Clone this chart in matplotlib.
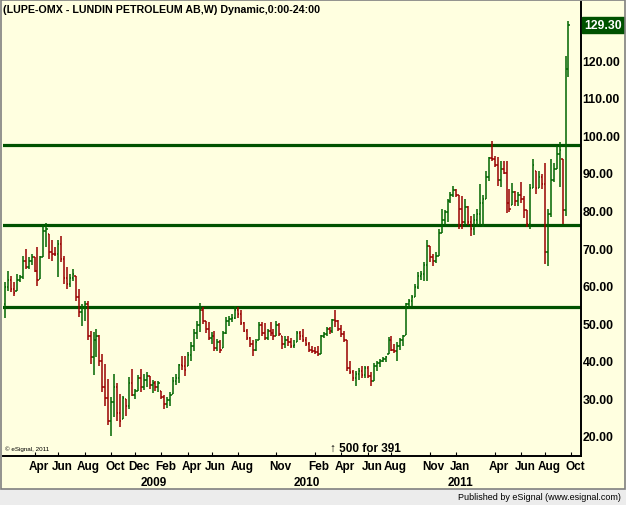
import numpy as np
import pandas as pd
import matplotlib
matplotlib.use('Agg')
import matplotlib.pyplot as plt
import matplotlib.transforms as mtransforms
from matplotlib.patches import Rectangle

# weekly bars, LUPE-OMX
start_week = '2008-01-28'
highs = [61, 64, 62.6, 61, 63, 62.8, 68, 69.7, 67.5, 68.4, 67.5, 70.2, 68, 76, 76.6, 73.7, 72, 70.3, 72, 73.3,
         68, 64.9, 63, 64.4, 62.6, 59.1, 55.1, 56, 56, 48, 47.6, 48.5, 46.9, 41.8, 39.1, 35.2, 30.3, 36.5, 34, 31.2,
         30.7, 29.8, 35.6, 37.8, 32.5, 36.1, 37.8, 36.5, 37, 36, 35, 34.5, 34.5, 32, 30.8, 30.3, 31.6, 35.6, 36.5, 39.1,
         41.4, 41.4, 42.3, 45, 48.5, 50.7, 55.4, 54.2, 50.5, 50.2, 47.6, 48, 45.8, 45.4, 48, 51.6, 52, 52.5, 54.5, 54.2,
         53.5, 50.2, 48.5, 46.2, 45.4, 45.8, 50.2, 50.2, 50, 48.5, 50.2, 48.5, 50.7, 50, 46.7, 46.5, 46.5, 46, 45.5, 48,
         48, 48.5, 46.2, 45, 44, 43.6, 44, 46.9, 47.6, 48.9, 49, 51.1, 53.6, 50.8, 49.5, 48, 45.5, 40, 37.5, 37.4,
         38, 38.5, 38.5, 38.5, 37, 39.5, 40, 40.5, 41, 41.3, 46.2, 46.5, 44.5, 44.9, 46, 46.9, 55.5, 56.5, 57.5, 60.4,
         63.5, 64, 66.2, 72, 70.5, 68.5, 69, 75, 80.4, 80, 83, 84.8, 86.6, 85.7, 84, 83.9, 83, 81.2, 78.6, 79,
         80.4, 87, 84, 90.6, 94.1, 98.5, 94.6, 94.1, 93.2, 93.2, 93.2, 85.7, 87.3, 85.2, 84.8, 87.5, 83.9, 80, 87, 93.8,
         90.6, 90.6, 89.7, 92.6, 80.4, 93.7, 92.6, 97.2, 98.3, 93.7, 121.2, 130.3]
lows = [51.3, 58.6, 58.2, 57.3, 58.6, 60.9, 61.7, 64.4, 64.4, 65.5, 63.5, 60, 61.7, 67.5, 70.2, 67, 66.6, 68, 62.2, 66.2,
        60.4, 59.1, 59.5, 61.3, 56, 51.6, 49.3, 50.7, 45.4, 39.1, 36.1, 40.9, 38.7, 31.6, 28.1, 22.8, 20.1, 25, 24.1, 22.3,
        24.5, 25.4, 27.2, 30.7, 29.8, 32, 31.6, 32.3, 33, 32.5, 31.5, 32, 31.8, 29.8, 27.2, 27.5, 28.1, 31.2, 33.5, 34,
        37.5, 36, 38.7, 40, 42.7, 45.8, 47.6, 49.8, 47.5, 45.4, 44.5, 42.7, 42.7, 42.2, 43.5, 47, 49.3, 50.2, 51.2, 51.5,
        49.5, 47.6, 45.4, 43.6, 41.4, 42.5, 45.4, 46.5, 45.4, 45.5, 46.5, 45.5, 46.5, 46.5, 43.1, 43.5, 44, 43.5, 43.5, 44.9,
        45.4, 45, 44, 42.3, 42, 41.8, 41.4, 41.8, 46, 46.5, 47, 47.5, 48.9, 48, 46.2, 45, 37.4, 36.5, 34.7, 33.4,
        35, 35.5, 35.5, 35.5, 33.4, 34.5, 37.4, 38.3, 39.6, 39.6, 41.8, 42.5, 42, 40, 43, 44, 46.9, 53.8, 54.5, 56.9,
        59, 61.5, 61.3, 61.3, 66.2, 65.3, 66, 68, 74, 76, 76.8, 82, 83.5, 83.5, 75, 75, 76, 76, 73.3, 73.5,
        75.5, 76.1, 75.5, 83, 87.9, 93.2, 91.5, 86.6, 86.1, 89.7, 79.3, 79.5, 81.4, 81.2, 81.2, 82, 78, 75.5, 75, 86,
        84.4, 86, 85.7, 65.7, 65.3, 78.2, 87.5, 91, 86.1, 76.4, 78.4, 115.4]
closes = [59.5, 61.5, 59, 58, 61.5, 62.3, 66.5, 65, 66.5, 67.5, 64, 61.5, 67.5, 74.5, 75, 69, 68.5, 68.3, 71, 67,
          62, 60.5, 62, 63, 57, 53, 54, 55, 46.5, 41, 45.5, 46.5, 40, 33, 30, 24, 29, 33, 26, 24,
          30, 28, 34, 31, 32, 35.5, 33, 35, 36, 33.5, 34, 33, 34, 30.5, 28.5, 29.5, 31, 34.5, 35.5, 39,
          38.5, 37.5, 41.5, 44, 47.5, 49.5, 53.5, 50.5, 48.5, 46, 46.5, 43.5, 45, 43, 47.5, 50.5, 51, 51.5, 53.5, 52.5,
          50, 48, 46, 44.5, 43, 45, 49.5, 47.5, 46, 48, 47.5, 46.5, 49.5, 47, 44.5, 45.5, 45, 44, 44.3, 47.5,
          46.5, 45.5, 44.5, 43, 42.5, 42.3, 41.8, 46.5, 47.2, 48.5, 47.8, 50.8, 50.5, 48.5, 47, 45.5, 38, 37, 35.5, 36.5,
          37.3, 36.2, 38, 36, 34.5, 38.5, 39.5, 40, 40.5, 41, 45.5, 43, 42.5, 44, 45.5, 46.5, 55, 56, 57, 59.5,
          62.5, 63, 65.5, 70.5, 67.5, 66.5, 68, 74, 77.5, 79.5, 82.5, 84, 85.5, 84, 80.5, 77, 81, 77, 75, 77.5,
          79, 82, 83, 89, 94, 93.7, 92, 88, 91, 90, 82, 80.5, 85, 82.5, 84, 83, 80, 76.5, 86, 92,
          86, 89, 87, 69, 79, 88, 91, 95, 96, 80, 117.5, 129.3]
first_open = 55
level_lines = [97.4, 76.1, 54.4]
y_ticks = [20, 30, 40, 50, 60, 70, 80, 90, 100, 110, 120]
month_ticks = ['2008-04', '2008-06', '2008-08', '2008-10', '2008-12', '2009-02', '2009-04', '2009-06', '2009-08',
               '2009-11', '2010-02', '2010-04', '2010-06', '2010-08', '2010-11', '2011-01', '2011-04', '2011-06',
               '2011-08', '2011-10']
year_ticks = ['2009', '2010', '2011']

W, H = 626, 506
BG = '#FFFFE0'
GREEN = '#006400'
RED = '#990000'
FONT = ['Liberation Sans', 'DejaVu Sans']
plt.rcParams['font.family'] = FONT

df = pd.DataFrame({'high': highs, 'low': lows, 'close': closes})
df['date'] = pd.date_range(start_week, periods=len(df), freq='7D')
prev = df['close'].shift(1).fillna(first_open)
df['open'] = np.clip(prev, df['low'], df['high'])
df['up'] = df['close'] >= prev
idx = np.arange(len(df))

# week calendar running a bit past the last bar, for the axis labels
weeks = pd.Series(pd.date_range(start_week, periods=len(df) + 8, freq='7D'))
week_month = weeks.dt.to_period('M').astype(str).values

fig = plt.figure(figsize=(W / 100, H / 100), dpi=100)
fig.patch.set_facecolor(BG)

# plot area: x 3..581, y 3..457 (pixels)
ax = fig.add_axes([3 / W, (H - 457) / H, 578 / W, 454 / H])
ax.set_facecolor(BG)
ax.set_xlim(-0.68, 195.25)
ax.set_ylim(14.68, 135.43)

for y in level_lines:
    ax.axhline(y, color='#005200', lw=2.3, zorder=1)

cols = np.where(df['up'], GREEN, RED)
ax.vlines(idx, df['low'], df['high'], colors=cols, lw=1.1, zorder=3)
ax.hlines(df['open'], idx - 0.45, idx, colors=cols, lw=1.1, zorder=3)
ax.hlines(df['close'], idx, idx + 0.45, colors=cols, lw=1.1, zorder=3)

for s in ['left', 'top']:
    ax.spines[s].set_visible(False)
for s in ['right', 'bottom']:
    ax.spines[s].set_color('black')
    ax.spines[s].set_linewidth(1.4)

ax.yaxis.set_ticks_position('right')
ax.set_yticks(y_ticks)
ax.set_yticklabels(['%.2f' % v for v in y_ticks], fontsize=8.8, fontweight='bold')
ax.tick_params(axis='y', length=0, pad=1)

# month ticks at first bar of each labelled month
month_idx = [int(np.argmax(week_month == m)) for m in month_ticks]
ax.set_xticks(month_idx)
ax.set_xticklabels([])
ax.tick_params(axis='x', direction='in', length=3, color='black')

trans = mtransforms.blended_transform_factory(ax.transData, ax.transAxes)
off = mtransforms.offset_copy(trans, fig=fig, x=4, y=-10, units='dots')
for m, i in zip(month_ticks, month_idx):
    name = pd.Timestamp(m + '-01').strftime('%b')
    ax.text(i, 0, name, transform=off, ha='center', va='center', fontsize=8.5, fontweight='bold', clip_on=False)

off_y = mtransforms.offset_copy(trans, fig=fig, x=4, y=-26, units='dots')
for yr in year_ticks:
    i = int(np.argmax(weeks.dt.year.values == int(yr)))
    ax.text(i, 0, yr, transform=off_y, ha='center', va='center', fontsize=8.5, fontweight='bold', clip_on=False)

# last price box
last = closes[-1]
ax.annotate('%.2f' % last, xy=(1, last), xycoords=('axes fraction', 'data'), xytext=(3, 0),
            textcoords='offset pixels', ha='left', va='center', fontsize=8.8, fontweight='bold', color='white',
            bbox=dict(boxstyle='square,pad=0.2', fc='#005200', ec='#005200'))

fig.text(3 / W, 1 - 10 / H, '(LUPE-OMX - LUNDIN PETROLEUM AB,W) Dynamic,0:00-24:00',
         fontsize=7.7, fontweight='bold', va='center', ha='left')
fig.text(5 / W, 1 - 449 / H, '\u00a9 eSignal, 2011', fontsize=4.5, va='center', ha='left')
fig.text(330 / W, 1 - 449 / H, '\u2191 500 for 391', fontsize=8.5, fontweight='bold', va='center', ha='left')

# bottom strip and frame
fig.patches.append(Rectangle((0, 0), 1, 16 / H, transform=fig.transFigure, fc='#ECECEC', ec='none', zorder=0))
fig.patches.append(Rectangle((0.5 / W, 16 / H), (W - 1.5) / W, (H - 16.5) / H, transform=fig.transFigure,
                             fc='none', ec='#808080', lw=1.2, zorder=5))
fig.text(621 / W, 8 / H, 'Published by eSignal (www.esignal.com)', fontsize=6.5, va='center', ha='right')

fig.savefig('out.png', dpi=100, facecolor=BG)
